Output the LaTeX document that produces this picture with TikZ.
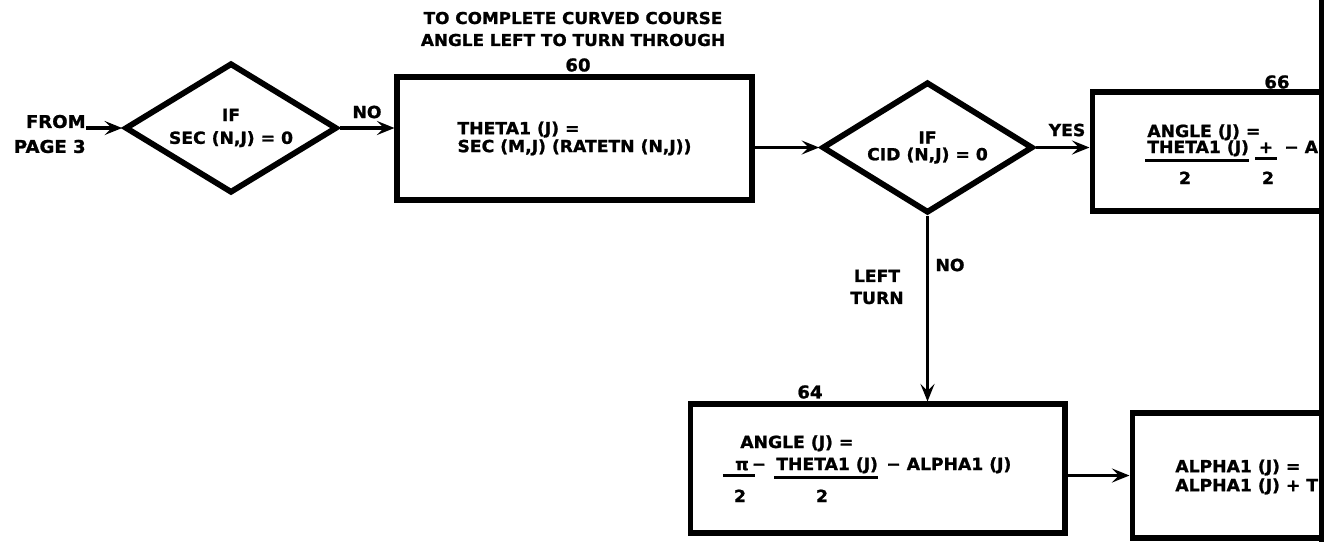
\documentclass[tikz,border=0pt]{standalone}
\usepackage{fontspec}
\setmainfont{DejaVu Sans}[FakeStretch=1.03, BoldFeatures={FakeBold=1.2}]
\usetikzlibrary{shapes.geometric, arrows.meta, positioning, calc}

\newcommand{\lfont}{\fontsize{9.5}{10.2}\selectfont\bfseries}
\tikzset{
  box/.style={draw, rectangle, line width=2.9pt, inner sep=0pt},
  test/.style={draw, diamond, aspect=1.6, line width=3.3pt, inner sep=1pt, align=center},
  flow/.style={line width=1.9pt, -{Stealth[length=10pt, width=8pt, inset=4pt]}},
  txt/.style={inner sep=0pt, font=\lfont},
  tag/.style={inner sep=0pt, font=\fontsize{10}{11}\selectfont\bfseries},
  bar/.style={line width=1.4pt}
}

\begin{document}
\begin{tikzpicture}[x=0.02cm, y=-0.02cm]
\useasboundingbox (0,0) rectangle (1324,542);
\clip (0,0) rectangle (1324,542);

% Entry test
\node[tag, align=right, anchor=east, font=\fontsize{10}{14.2}\selectfont\bfseries] (from) at (86,134) {FROM\\PAGE 3};
\node[test, minimum width=4.24cm, minimum height=2.6cm, font=\fontsize{9.5}{13}\selectfont\bfseries] (dia1) at (231,128) {IF\\SEC (N,J) = 0};
\draw[flow] (from.east |- dia1.west) -- (dia1.west);

% Block 60
\node[tag, align=center, font=\fontsize{9.3}{12.5}\selectfont\bfseries] (note60) at (573,29) {TO COMPLETE CURVED COURSE\\ANGLE LEFT TO TURN THROUGH};
\node[box, minimum width=7.1cm, minimum height=2.46cm, align=left, font=\lfont] (calc60) at (574.5,138.5) {THETA1 (J) =\\SEC (M,J) (RATETN (N,J))};
\node[tag] (num60) at (578,65) {60};
\draw[flow] (dia1.east) -- (dia1.east -| calc60.west);
\node[txt] (no1) at (367,112) {NO};

% Direction test
\node[test, minimum width=4.22cm, minimum height=2.62cm, font=\fontsize{9.5}{9.5}\selectfont\bfseries] (dia2) at (927.5,147.5) {IF\\CID (N,J) = 0};
\draw[flow] (calc60.east |- dia2.west) -- (dia2.west);

% Block 66
\node[box, minimum width=6.56cm, minimum height=2.38cm] (ang66) at (1256,151.5) {};
\node[tag] (num66) at (1277,82) {66};
\draw[flow] (dia2.east) -- (dia2.east -| ang66.west);
\node[txt] (yes2) at (1067,130) {YES};
\node[txt, anchor=base west] (a66) at (1147,137) {ANGLE (J) =};
\node[txt, anchor=base west] (t66) at (1147,153) {THETA1 (J)};
\node[txt, anchor=base] (p66) at (1266,153) {+};
\node[txt, anchor=base west] (r66) at (1284,153) {− ALPHA1 (J)};
\draw[bar] ($(t66.south west)+(-2,4)$) -- ($(t66.south east)+(0,4)$);
\draw[bar] ($(p66.south west)+(-3,5)$) -- ($(p66.south east)+(3,5)$);
\node[txt, anchor=base] (d66a) at (1185,184) {2};
\node[txt, anchor=base] (d66b) at (1268,184) {2};

% Block 64
\node[box, minimum width=7.5cm, minimum height=2.58cm] (ang64) at (877.5,468.5) {};
\node[tag] (num64) at (810,392) {64};
\draw[flow] (dia2.south) -- (dia2.south |- ang64.north);
\node[txt] (no2) at (950,265) {NO};
\node[txt, align=center, font=\fontsize{9.5}{12.5}\selectfont\bfseries] (left2) at (877,287) {LEFT\\TURN};
\node[txt, anchor=base west] (a64) at (740,448) {ANGLE (J) =};
\node[txt, anchor=base] (pi64) at (742,470) {π};
\node[txt, anchor=base] (m64) at (759,470) {−};
\node[txt, anchor=base west] (t64) at (776,470) {THETA1 (J)};
\node[txt, anchor=base west] (r64) at (886,470) {− ALPHA1 (J)};
\draw[bar] ($(pi64.south west)+(-12,5)$) -- ($(pi64.south east)+(6,5)$);
\draw[bar] ($(t64.south west)+(-2,4)$) -- ($(t64.south east)+(0,4)$);
\node[txt, anchor=base] (d64a) at (740,502) {2};
\node[txt, anchor=base] (d64b) at (822,502) {2};

% Block ALPHA1
\node[box, minimum width=6.36cm, minimum height=2.5cm] (alp) at (1291,475.5) {};
\draw[flow] (ang64.east |- alp.west) -- (alp.west);
\node[txt, anchor=west, align=left, font=\fontsize{9.5}{10.8}\selectfont\bfseries] (t70) at (1175,477) {ALPHA1 (J) =\\ALPHA1 (J) + THETA1 (J)};

% Page edge
\draw[line width=0.1cm] (1321,0) -- (1321,542);
\end{tikzpicture}
\end{document}
